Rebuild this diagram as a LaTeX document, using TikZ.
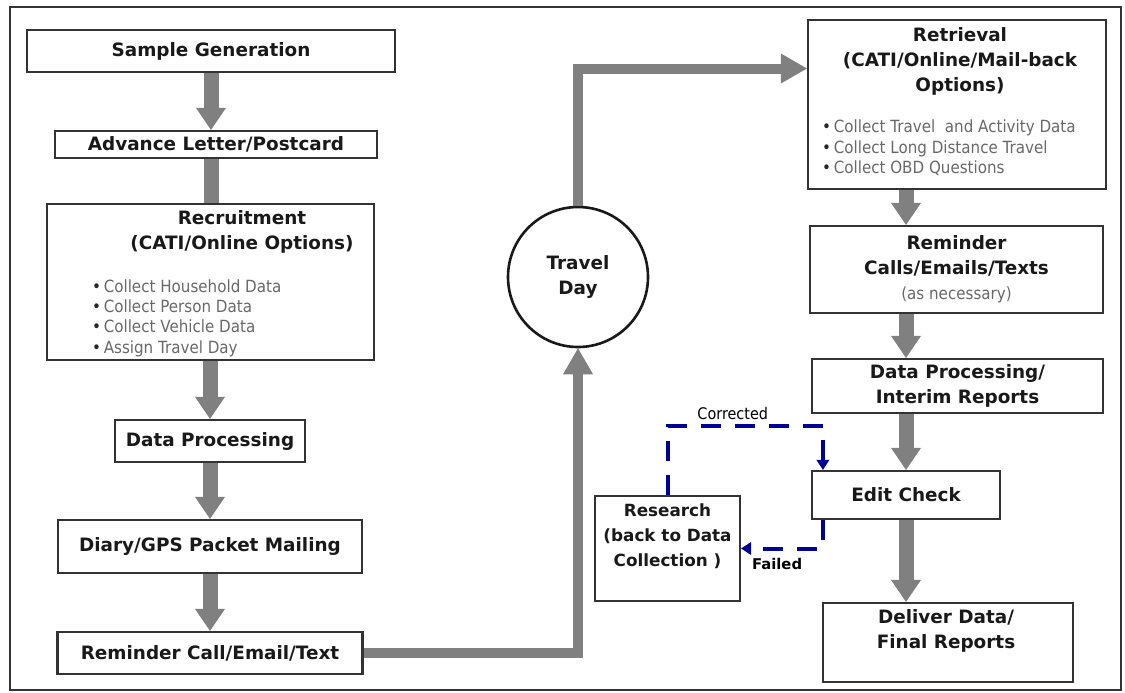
\documentclass[tikz,border=0pt]{standalone}
\usepackage{fontspec}
\setmainfont{DejaVu Sans}
\newfontfamily\notefont[FakeStretch=0.9]{DejaVu Sans}
\usetikzlibrary{arrows.meta}

\definecolor{flowgray}{RGB}{128,128,128}
\definecolor{loopblue}{RGB}{0,0,150}
\definecolor{notegray}{RGB}{105,105,105}
\newcommand{\bul}{{\color{black!85}•}\,}

\tikzset{
  stage/.style={draw=black!80, line width=1.1pt, fill=white, inner sep=0pt},
  boxtitle/.style={font=\bfseries\fontsize{9.2}{12.5}\selectfont, align=center, text=black!90},
  notes/.style={font=\notefont\fontsize{8.4}{10.2}\selectfont, align=left, text=notegray, anchor=west},
  flow/.style={color=flowgray, line width=7.5pt, -{Triangle[width=15pt,length=11pt,line width=0pt]}},
  flowline/.style={color=flowgray, line width=7.5pt},
  longflow/.style={color=flowgray, line width=5pt, -{Triangle[width=15pt,length=13pt,line width=0pt]}},
  recheck/.style={color=loopblue, line width=2pt, dash pattern=on 10pt off 7pt, -{Triangle[width=6.5pt,length=5pt,line width=0pt]}},
  looplabel/.style={text=black, inner sep=1pt}
}

\begin{document}
\begin{tikzpicture}[x=0.5pt, y=-0.5pt]
          \useasboundingbox (0,0) rectangle (1125,692);
          % frame
          \draw[black!80, line width=1.2pt] (10,7) rectangle (1121,690);
          % Sample Generation
          \node[stage, boxtitle, minimum width=184pt, minimum height=21pt] (sample) at (211,51) {Sample Generation};
          % Advance Letter
          \node[stage, boxtitle, minimum width=161pt, minimum height=13.5pt] (advance) at (216,144.5) {Advance Letter/Postcard};
          % Recruitment
          \node[stage, minimum width=163.5pt, minimum height=78pt] (recruit) at (210.5,282) {};
          \node[boxtitle] (recruit-title) at (242,232) {Recruitment\\(CATI/Online Options)};
          \node[notes] (recruit-notes) at (85,318) {\bul Collect Household Data\\\bul Collect Person Data\\\bul Collect Vehicle Data\\\bul Assign Travel Day};
          % Data Processing
          \node[stage, boxtitle, minimum width=95pt, minimum height=21pt] (dataproc) at (210,441) {Data Processing};
          % Diary/GPS
          \node[stage, boxtitle, minimum width=152pt, minimum height=26.5pt] (diary) at (210,546.5) {Diary/GPS Packet Mailing};
          % Reminder Call
          \node[stage, boxtitle, minimum width=152.5pt, minimum height=21pt] (remind) at (210,653) {Reminder Call/Email/Text};
          % Travel Day
          \node[circle, draw=black!90, line width=1.3pt, fill=white, minimum size=70pt, inner sep=0pt, boxtitle] (travel) at (578,277) {Travel\\Day};
          % Retrieval
          \node[stage, minimum width=149pt, minimum height=84.5pt] (retrieval) at (957,104.5) {};
          \node[boxtitle] (retrieval-title) at (960,61) {Retrieval\\(CATI/Online/Mail-back\\Options)};
          \node[notes] (retrieval-notes) at (815,148) {\bul Collect Travel\ \ and Activity Data\\\bul Collect Long Distance Travel\\\bul Collect OBD Questions};
          % Reminder Calls
          \node[stage, boxtitle, minimum width=146.5pt, minimum height=43.5pt] (calls) at (956.5,269.5) {Reminder\\Calls/Emails/Texts\\{\notefont\mdseries\fontsize{8.4}{10}\selectfont\color{notegray}(as necessary)}};
          % Interim Reports
          \node[stage, boxtitle, minimum width=145.5pt, minimum height=27pt] (interim) at (957.5,386) {Data Processing/\\Interim Reports};
          % Edit Check
          \node[stage, boxtitle, minimum width=94pt, minimum height=24pt] (edit) at (906,495) {Edit Check};
          % Research
          \node[stage, minimum width=72.5pt, minimum height=52.5pt] (research) at (667.5,548.5) {};
          \node[boxtitle, font=\bfseries\fontsize{8.4}{12.5}\selectfont] (research-title) at (667.5,536) {Research\\(back to Data\\Collection )};
          % Deliver Data
          \node[stage, minimum width=125pt, minimum height=39.5pt] (deliver) at (948,642.5) {};
          \node[boxtitle] (deliver-title) at (946,631) {Deliver Data/\\Final Reports};
          % left column arrows
          \draw[flow] (sample.south) -- (sample.south |- advance.north);
          \draw[flowline] (advance.south -| sample) -- (recruit.north -| sample);
          \draw[flow] (recruit.south -| dataproc) -- (dataproc.north);
          \draw[flow] (dataproc) -- (diary);
          \draw[flow] (diary.south) -- (remind.north);
          % to and from travel day
          \draw[longflow] (remind.east) -| (travel.south);
          \draw[longflow] (travel.north) |- ([yshift=18pt]retrieval.west);
          % right column arrows
          \draw[flow] (retrieval.south -| edit) -- (calls.north -| edit);
          \draw[flow] (calls.south -| edit) -- (interim.north -| edit);
          \draw[flow] (interim.south -| edit) -- (edit.north);
          \draw[flow] (edit.south) -- (deliver.north -| edit);
          % edit check loop
          \draw[recheck] (research.north) -- ++(0,-69) -| node[looplabel, pos=0.21, above, yshift=1pt] {\fontsize{8}{9}\selectfont\notefont Corrected} ([xshift=6pt]edit.north west);
          \draw[recheck] ([xshift=6pt]edit.south west) |- node[looplabel, pos=0.78, below, yshift=-3pt] {\fontsize{7.4}{9}\selectfont\bfseries Failed} (research.east);
        \end{tikzpicture}
\end{document}
